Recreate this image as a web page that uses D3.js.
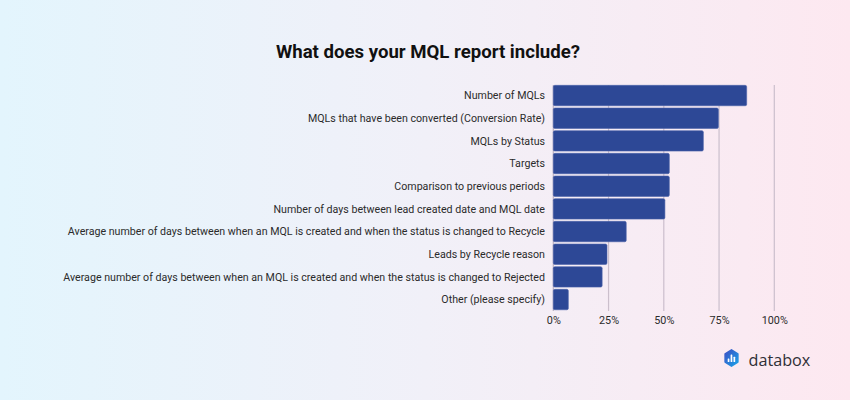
<!DOCTYPE html>
<html>
<head>
<meta charset="utf-8">
<script src="https://cdn.jsdelivr.net/npm/d3@7/dist/d3.min.js"></script>
<style>
  html, body { margin: 0; padding: 0; }
  body { width: 850px; height: 400px; overflow: hidden; }
  svg { display: block; font-family: Roboto, "Noto Sans", sans-serif; }
</style>
</head>
<body>
<svg id="chart" width="850" height="400"></svg>
<script>
const categories = [
  "Number of MQLs",
  "MQLs that have been converted (Conversion Rate)",
  "MQLs by Status",
  "Targets",
  "Comparison to previous periods",
  "Number of days between lead created date and MQL date",
  "Average number of days between when an MQL is created and when the status is changed to Recycle",
  "Leads by Recycle reason",
  "Average number of days between when an MQL is created and when the status is changed to Rejected",
  "Other (please specify)"
];
const values = [87.5, 74.7, 67.9, 52.5, 52.5, 50.5, 33.0, 24.3, 22.1, 6.8];
const tickValues = [0, 25, 50, 75, 100];
const tickLabels = ["0%", "25%", "50%", "75%", "100%"];
const title = "What does your MQL report include?";

const svg = d3.select("#chart");

// background gradient
const defs = svg.append("defs");
const bg = defs.append("linearGradient").attr("id", "bg").attr("x1", "0").attr("x2", "1").attr("y1", "0").attr("y2", "0");
bg.append("stop").attr("offset", "0").attr("stop-color", "#e3f5fd");
bg.append("stop").attr("offset", "0.5").attr("stop-color", "#f1f0f8");
bg.append("stop").attr("offset", "1").attr("stop-color", "#fde8f0");
const hex = defs.append("linearGradient").attr("id", "hex").attr("x1", "0").attr("x2", "1").attr("y1", "0").attr("y2", "1");
hex.append("stop").attr("offset", "0").attr("stop-color", "#3b4fc4");
hex.append("stop").attr("offset", "1").attr("stop-color", "#1aa3e8");
svg.append("rect").attr("width", 850).attr("height", 400).attr("fill", "url(#bg)");

svg.append("text")
  .attr("x", 428).attr("y", 58)
  .attr("text-anchor", "middle")
  .attr("font-size", 18.6).attr("font-weight", 700).attr("fill", "#111")
  .text(title);

const x = d3.scaleLinear().domain([0, 100]).range([553.3, 774.3]);
const y = d3.scaleBand().domain(categories).range([84.2, 310.9]).paddingInner(0.1).paddingOuter(0.05);

// gridlines
svg.append("g").selectAll("line").data(tickValues).join("line")
  .attr("x1", d => x(d)).attr("x2", d => x(d))
  .attr("y1", 85).attr("y2", 311)
  .attr("stroke", d => d === 0 ? "#b9b0c2" : "#cbbfcc").attr("stroke-width", 1.2);

// bars
svg.append("g").selectAll("rect").data(values).join("rect")
  .attr("x", x(0))
  .attr("y", (d, i) => y(categories[i]))
  .attr("width", d => x(d) - x(0))
  .attr("height", y.bandwidth())
  .attr("rx", 1.5)
  .attr("fill", "#2d4896")
  .attr("stroke", "#4b63aa").attr("stroke-width", 0.6);

// category labels
svg.append("g").selectAll("text").data(categories).join("text")
  .attr("x", 545)
  .attr("y", d => y(d) + y.bandwidth() / 2)
  .attr("dy", "0.35em")
  .attr("text-anchor", "end")
  .attr("font-size", 10.65).attr("fill", "#2b2b2b")
  .text(d => d);

// x axis tick labels
const xAxis = d3.axisBottom(x).tickValues(tickValues).tickFormat((d, i) => tickLabels[i]).tickSize(0).tickPadding(0);
const gx = svg.append("g").attr("transform", "translate(0,316.5)").call(xAxis);
gx.select(".domain").remove();
gx.selectAll("text").attr("font-size", 10.8).attr("fill", "#2b2b2b").attr("font-family", "Roboto, sans-serif").attr("dy", "0.71em");

// databox logo
const logo = svg.append("g").attr("transform", "translate(731.5,358)");
const r = 8.2;
const pts = d3.range(6).map(k => {
  const a = Math.PI / 3 * k - Math.PI / 2;
  return [r * 0.9 * Math.cos(a), r * Math.sin(a)];
});
logo.append("path").attr("d", "M" + pts.map(p => p.join(",")).join("L") + "Z")
  .attr("fill", "url(#hex)").attr("stroke", "url(#hex)").attr("stroke-width", 1.5).attr("stroke-linejoin", "round");
[[-3.8, 0.5, 3.5], [-0.9, -3.5, 7.5], [2.0, -1.2, 5.2]].forEach(([bx, by, bh]) => {
  logo.append("rect").attr("x", bx).attr("y", by).attr("width", 1.7).attr("height", bh).attr("fill", "#fff").attr("rx", 0.5);
});
svg.append("text").attr("x", 748.5).attr("y", 366)
  .attr("font-size", 16.2).attr("font-weight", 500).attr("fill", "#2f2f36")
  .attr("font-family", "\"Open Sans\", Roboto, sans-serif")
  .text("databox");
</script>
</body>
</html>
